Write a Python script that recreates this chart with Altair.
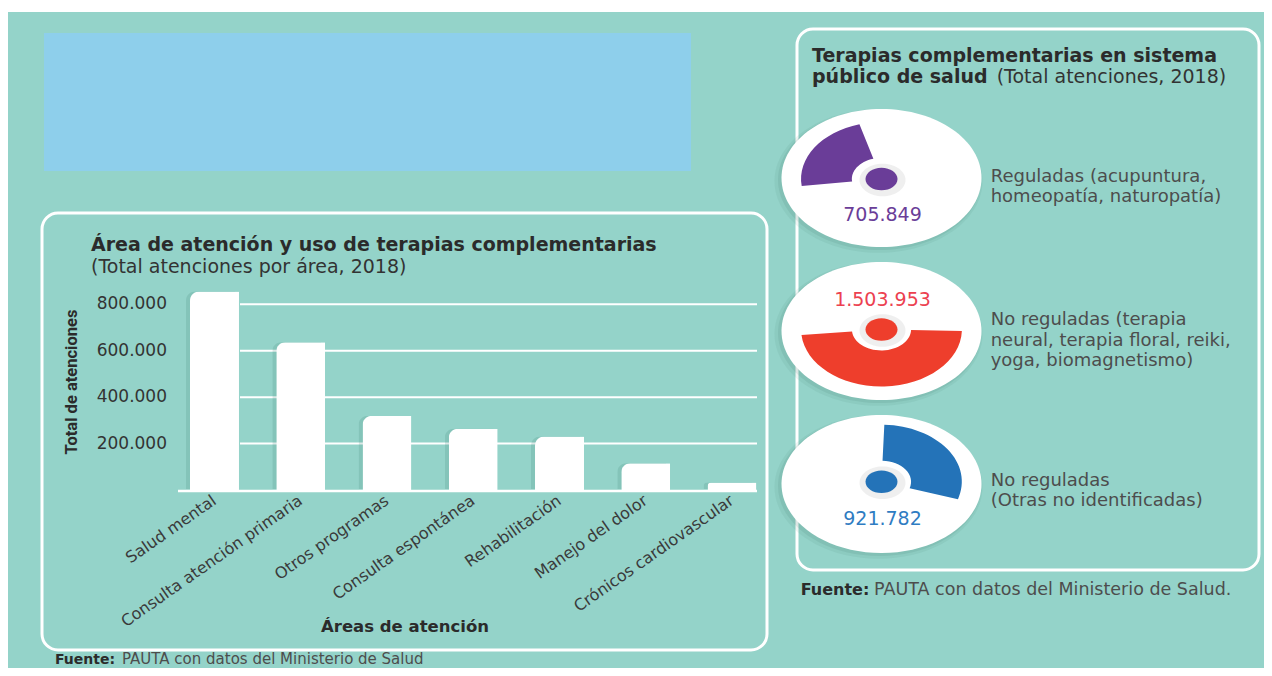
import altair as alt
import pandas as pd

# ---------------- data ----------------
areas = ["Salud mental", "Consulta atención primaria", "Otros programas",
         "Consulta espontánea", "Rehabilitación", "Manejo del dolor",
         "Crónicos cardiovascular"]
atenciones = [855000, 636000, 319000, 264000, 230000, 115000, 32000]

y_ticks = [200000, 400000, 600000, 800000]
y_tick_labels = ["200.000", "400.000", "600.000", "800.000"]

tipos = ["Reguladas", "No reguladas", "No reguladas otras"]
tipo_valores = [705849, 1503953, 921782]
tipo_etiquetas = ["705.849", "1.503.953", "921.782"]
tipo_descripcion = [
    "Reguladas (acupuntura,\nhomeopatía, naturopatía)",
    "No reguladas (terapia\nneural, terapia floral, reiki,\nyoga, biomagnetismo)",
    "No reguladas\n(Otras no identificadas)",
]

titulo_izq = "Área de atención y uso de terapias complementarias"
subtitulo_izq = "(Total atenciones por área, 2018)"
titulo_eje_y = "Total de atenciones"
titulo_eje_x = "Áreas de atención"
titulo_der_1 = "Terapias complementarias en sistema"
titulo_der_2b = "público de salud"
titulo_der_2r = "(Total atenciones, 2018)"
fuente_b = "Fuente:"
fuente_r = "PAUTA con datos del Ministerio de Salud."
fuente_r_izq = "PAUTA con datos del Ministerio de Salud"

# ---------------- style / layout ----------------
FONT = "DejaVu Sans"
TEAL = "#94d3c9"
BLUE_BOX = "#8ecfeb"
DARK = "#2b2b2b"
GRAY = "#4d4d4d"
tipo_colores = ["#6a3d98", "#ee3e2c", "#2473b8"]
tipo_text_colores = ["#6a3d98", "#ec4150", "#2f7cc2"]
ellipse_cy = [170, 323, 476]
dot_cy = [171, 321.5, 473.7]
CX = 873.5
label_cy = [207, 292, 511]
desc_y = [173.5, 317, 477.7]
wedge_mid_deg = [303.5, 178, 55]

ELLIPSE = "M-1,0A1,0.69 0 1,1 1,0A1,0.69 0 1,1 -1,0Z"
DOT = "M-1,0A1,0.707 0 1,1 1,0A1,0.707 0 1,1 -1,0Z"
ROX, ROY, RIX, RIY = 0.804, 0.57, 0.296, 0.21

bars_df = pd.DataFrame({"area": areas, "v": atenciones})
ticks_df = pd.DataFrame({"v": y_ticks, "label": y_tick_labels})
zero_df = pd.DataFrame({"v": [0]})
tipos_df = pd.DataFrame({"tipo": tipos, "valor": tipo_valores,
                         "etiqueta": tipo_etiquetas, "desc": tipo_descripcion})

xscale = alt.Scale(domain=areas, range=[182, 748.5], paddingInner=0.432, paddingOuter=0)
yscale = alt.Scale(domain=[0, 800000], range=[482, 296.3], nice=False)
X = alt.X("area:N", sort=areas, scale=xscale, axis=None)
Y = alt.Y("v:Q", scale=yscale, axis=None)

one = pd.DataFrame({"k": [0]})


def rect(x0, x1, y0, y1, **kw):
    return alt.Chart(one).mark_rect(**kw).encode(
        x=alt.value(x0), x2=alt.value(x1), y=alt.value(y0), y2=alt.value(y1))


def txt(s, x, y, size, color, weight="normal", align="left", baseline="alphabetic",
        angle=None, lh=None, font=FONT):
    props = dict(font=font, fontSize=size, color=color, fontWeight=weight,
                 align=align, baseline=baseline)
    if angle is not None:
        props["angle"] = angle
    if lh is not None:
        props["lineBreak"] = "\n"
        props["lineHeight"] = lh
    return alt.Chart(pd.DataFrame({"t": [s]})).mark_text(**props).encode(
        text="t:N", x=alt.value(x), y=alt.value(y))


def ell(shape, size, x, y, fill, opacity=1.0):
    return alt.Chart(one).mark_point(shape=shape, size=size, filled=True, fill=fill,
                                     opacity=opacity, strokeWidth=0).encode(
        x=alt.value(x), y=alt.value(y))


layers = []
# background
layers.append(rect(0, 1256, 4, 660, fill=TEAL))
layers.append(rect(36, 683, 25, 163, fill=BLUE_BOX))
# panel boxes
layers.append(rect(34, 759, 205, 642, fill="transparent", stroke="white",
                   strokeWidth=3, cornerRadius=16))
layers.append(rect(789, 1251, 21, 562, fill="transparent", stroke="white",
                   strokeWidth=3, cornerRadius=16))

# ---------- bar chart ----------
layers.append(alt.Chart(ticks_df).mark_rule(color="white", strokeWidth=2).encode(
    y=Y, x=alt.value(232), x2=alt.value(749)))
layers.append(alt.Chart(bars_df).mark_bar(color="#3f7f76", opacity=0.18,
                                          cornerRadiusTopLeft=9, xOffset=-4, yOffset=-1).encode(x=X, y=Y))
layers.append(alt.Chart(bars_df).mark_bar(color="white", cornerRadiusTopLeft=9).encode(x=X, y=Y))
layers.append(alt.Chart(zero_df).mark_rule(color="white", strokeWidth=2.5, yOffset=1).encode(
    y=Y, x=alt.value(170), x2=alt.value(749)))
layers.append(alt.Chart(ticks_df).mark_text(font=FONT, fontSize=17, color="#333333",
                                            align="right", baseline="middle").encode(
    y=Y, x=alt.value(159), text="label:N"))
layers.append(alt.Chart(bars_df).mark_text(font=FONT, fontSize=16, color="#3a3a3a",
                                           align="right", baseline="middle", angle=325).encode(
    x=X, y=alt.value(491), text="area:N"))
layers.append(txt(titulo_izq, 83, 242.7, 19, DARK, weight="bold"))
layers.append(txt(subtitulo_izq, 83, 264.7, 19, "#333333"))
layers.append(txt(titulo_eje_y, 64, 374, 16.5, DARK, weight="bold", align="center",
                  baseline="middle", angle=270, font="Liberation Sans Narrow, Roboto"))
layers.append(txt(titulo_eje_x, 397, 619, 16.5, DARK, weight="bold", align="center",
                  baseline="middle"))
layers.append(txt(fuente_b, 47, 656, 14, DARK, weight="bold"))
layers.append(txt(fuente_r, 122, 656, 15, GRAY) if False else txt(fuente_r_izq, 114, 656, 15, GRAY))

# ---------- right panel ----------
layers.append(txt(titulo_der_1, 804, 53.5, 19, DARK, weight="bold"))
layers.append(txt(titulo_der_2b, 804, 75, 19, DARK, weight="bold"))
layers.append(txt(titulo_der_2r, 988.7, 75, 19, "#333333"))

for i, tipo in enumerate(tipos):
    cy = ellipse_cy[i]
    dy = dot_cy[i]
    layers.append(ell(ELLIPSE, 208 ** 2, CX - 3, cy + 3, "#2e5e57", 0.07))
    layers.append(ell(ELLIPSE, 203 ** 2, CX - 2, cy + 2, "#2e5e57", 0.10))
    layers.append(ell(ELLIPSE, 200 ** 2, CX, cy, "white"))
    layers.append(ell(DOT, 46 ** 2, CX + 1, dy + 1, "#7a7a7a", 0.12))
    mid = wedge_mid_deg[i]

    def num(e):
        return "round((" + e + ")*10000)/10000"

    wedge = alt.Chart(tipos_df).transform_joinaggregate(
        total="sum(valor)"
    ).transform_filter(
        alt.datum.tipo == tipo
    ).transform_calculate(
        span="2*PI*datum.valor/datum.total",
    ).transform_calculate(
        a0=f"{mid}*PI/180 - datum.span/2",
        a1=f"{mid}*PI/180 + datum.span/2",
    ).transform_calculate(
        path=("'M'+" + num(f"{ROX}*sin(datum.a0)") + "+','+" + num(f"-{ROY}*cos(datum.a0)")
              + f"+'A{ROX},{ROY} 0 '+(datum.span>PI?1:0)+' 1 '+"
              + num(f"{ROX}*sin(datum.a1)") + "+','+" + num(f"-{ROY}*cos(datum.a1)")
              + "+'L'+" + num(f"{RIX}*sin(datum.a1)") + "+','+" + num(f"-{RIY}*cos(datum.a1)")
              + f"+'A{RIX},{RIY} 0 '+(datum.span>PI?1:0)+' 0 '+"
              + num(f"{RIX}*sin(datum.a0)") + "+','+" + num(f"-{RIY}*cos(datum.a0)")
              + "+'Z'")
    ).mark_point(filled=True, opacity=1, strokeWidth=0, size=40000).encode(
        shape=alt.Shape("path:N", scale=None, legend=None),
        color=alt.value(tipo_colores[i]),
        x=alt.value(CX), y=alt.value(dy))
    layers.append(wedge)
    layers.append(ell(DOT, 32 ** 2, CX, dy, tipo_colores[i]))
    layers.append(alt.Chart(tipos_df).transform_filter(alt.datum.tipo == tipo).mark_text(
        font=FONT, fontSize=19, color=tipo_text_colores[i], align="center", baseline="middle"
    ).encode(text="etiqueta:N", x=alt.value(CX + 1), y=alt.value(label_cy[i])))
    layers.append(alt.Chart(tipos_df).transform_filter(alt.datum.tipo == tipo).mark_text(
        font=FONT, fontSize=18, color=GRAY, align="left", baseline="alphabetic",
        lineBreak="\n", lineHeight=20.5
    ).encode(text="desc:N", x=alt.value(982.7), y=alt.value(desc_y[i])))

layers.append(txt(fuente_b, 792.7, 587, 16, DARK, weight="bold"))
layers.append(txt(fuente_r, 866, 587, 17.5, GRAY))

chart = alt.layer(*layers).properties(
    width=1256, height=660,
    autosize=alt.AutoSizeParams(type="fit", contains="padding"),
    padding=0, background="white",
).configure_view(strokeWidth=0)

chart.save("out.html", embed_options={"renderer": "svg", "actions": False})
